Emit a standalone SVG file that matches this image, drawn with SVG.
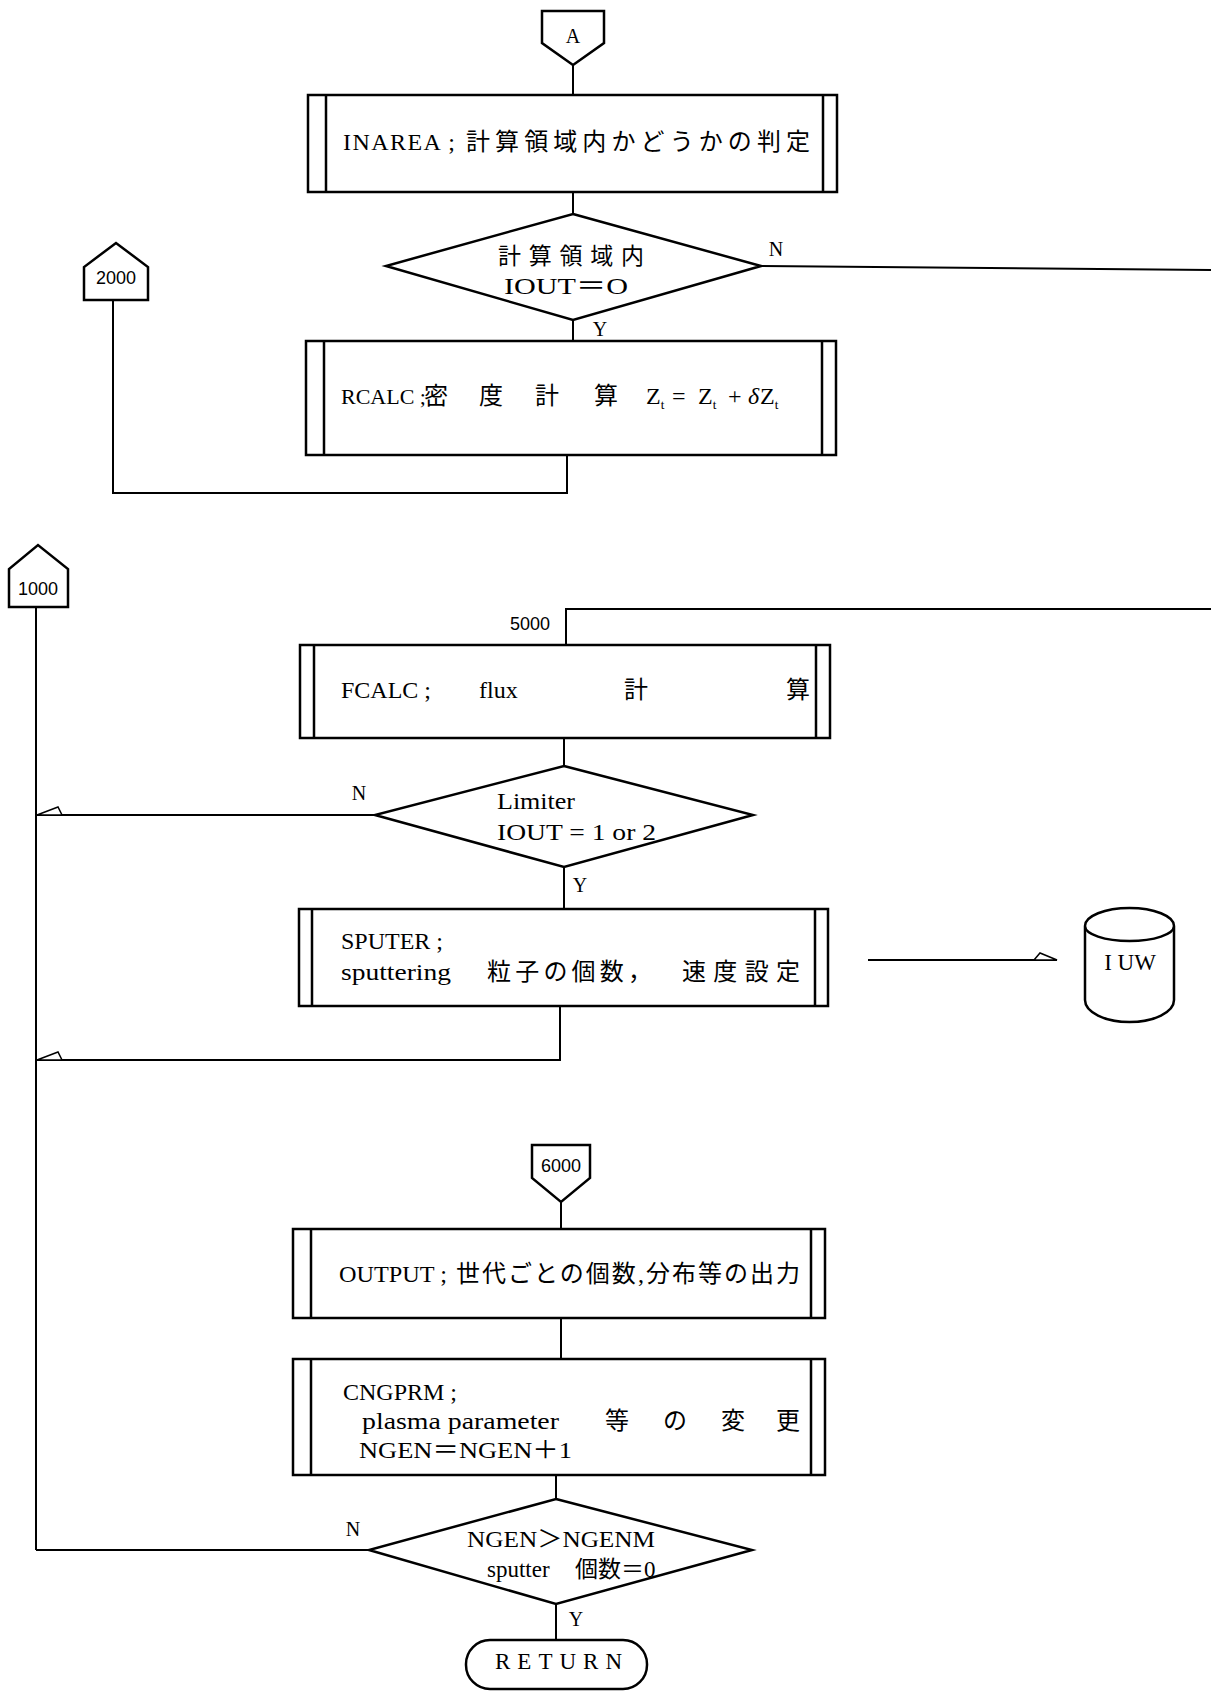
<svg xmlns="http://www.w3.org/2000/svg" width="1211" height="1691" viewBox="0 0 1211 1691">
<style>
.b{fill:none;stroke:#000;stroke-width:2.5}
.l{fill:none;stroke:#000;stroke-width:2}
.h{fill:#fff;stroke:#000;stroke-width:1.5}
text{font-family:"Liberation Serif","Noto Sans CJK JP",serif;fill:#000}
.t{font-size:24px}
.d{font-size:23px}
.s{font-size:20px}
.n{font-family:"Liberation Sans","Noto Sans CJK JP",sans-serif;font-size:19px}
.m{text-anchor:middle}
</style>
<rect width="1211" height="1691" fill="#fff"/>
<g id="connectors">
<path class="l" d="M573,65V95"/>
<path class="l" d="M573,192V214"/>
<path class="l" d="M761,266L1211,270"/>
<path class="l" d="M573,320V341"/>
<path class="l" d="M567,455V493H113V300"/>
<path class="l" d="M36,607V1550"/>
<path class="l" d="M1211,609H566V645"/>
<path class="l" d="M564,738V766"/>
<path class="l" d="M375,815H36"/>
<polygon class="h" points="37,815 58,807 62,815"/>
<path class="l" d="M564,867V909"/>
<path class="l" d="M560,1006V1060H36"/>
<polygon class="h" points="37,1060 58,1052 62,1060"/>
<path class="l" d="M868,960H1057"/>
<polygon class="h" points="1057,960 1040,953 1034,960"/>
<path class="l" d="M561,1202V1229"/>
<path class="l" d="M561,1318V1359"/>
<path class="l" d="M556,1475V1499"/>
<path class="l" d="M369,1550H36"/>
<path class="l" d="M556,1604V1640"/>
<text class="s" x="776" y="256" text-anchor="middle">N</text>
<text class="s" x="600" y="336" text-anchor="middle">Y</text>
<text class="n" x="530" y="630" text-anchor="middle" textLength="40" lengthAdjust="spacingAndGlyphs">5000</text>
<text class="s" x="359" y="800" text-anchor="middle">N</text>
<text class="s" x="580" y="892" text-anchor="middle">Y</text>
<text class="s" x="353" y="1536" text-anchor="middle">N</text>
<text class="s" x="576" y="1626" text-anchor="middle">Y</text>
</g>
<g id="A">
<polygon class="b" points="542,11 604,11 604,43 573,65 542,43"/>
<text class="s m" x="573" y="43">A</text>
</g>
<g id="INAREA">
<rect class="b" x="308" y="95" width="529" height="97"/>
<path class="b" d="M326,95V192M823,95V192"/>
<text class="t" x="343" y="150" textLength="112" lengthAdjust="spacing">INAREA ;</text>
<text class="t" x="466" y="150" textLength="344" lengthAdjust="spacing">計算領域内かどうかの判定</text>
</g>
<g id="dec1">
<polygon class="b" points="573,214 761,266 573,320 386,266"/>
<text class="d" x="498" y="264" textLength="146" lengthAdjust="spacing">計算領域内</text>
<text class="t" x="504" y="294" textLength="124" lengthAdjust="spacingAndGlyphs">IOUT＝O</text>
</g>
<g id="RCALC">
<rect class="b" x="306" y="341" width="530" height="114"/>
<path class="b" d="M324,341V455M822,341V455"/>
<text x="341" y="404" font-size="22">RCALC ;</text>
<text class="t" y="404"><tspan x="424">密</tspan><tspan x="479">度</tspan><tspan x="535">計</tspan><tspan x="594">算</tspan></text>
<text class="t" y="404"><tspan x="646">Z</tspan><tspan font-size="13" dy="5">t</tspan><tspan x="672" dy="-5">=</tspan><tspan x="698">Z</tspan><tspan font-size="13" dy="5">t</tspan><tspan x="728" dy="-5">+</tspan><tspan x="748" font-style="italic">δ</tspan><tspan x="760">Z</tspan><tspan font-size="13" dy="5">t</tspan></text>
</g>
<g id="c2000">
<polygon class="b" points="84,300 148,300 148,267 116,243 84,267"/>
<text class="n m" x="116" y="284" textLength="40" lengthAdjust="spacingAndGlyphs">2000</text>
</g>
<g id="c1000">
<polygon class="b" points="9,607 68,607 68,569 38,545 9,569"/>
<text class="n m" x="38" y="595" textLength="40" lengthAdjust="spacingAndGlyphs">1000</text>
</g>
<g id="FCALC">
<rect class="b" x="300" y="645" width="530" height="93"/>
<path class="b" d="M314,645V738M816,645V738"/>
<text class="t" y="698"><tspan x="341">FCALC ;</tspan><tspan x="479">flux</tspan><tspan x="624">計</tspan><tspan x="786">算</tspan></text>
</g>
<g id="dec2">
<polygon class="b" points="564,766 753,815 564,867 375,815"/>
<text class="t" x="497" y="809" textLength="78" lengthAdjust="spacingAndGlyphs">Limiter</text>
<text class="t" x="497" y="840" textLength="159" lengthAdjust="spacingAndGlyphs">IOUT = 1 or 2</text>
</g>
<g id="SPUTER">
<rect class="b" x="299" y="909" width="529" height="97"/>
<path class="b" d="M312,909V1006M815,909V1006"/>
<text class="t" x="341" y="949">SPUTER ;</text>
<text class="t" x="341" y="980" textLength="110" lengthAdjust="spacingAndGlyphs">sputtering</text>
<text class="t" x="487" y="980" textLength="165" lengthAdjust="spacing">粒子の個数，</text>
<text class="t" x="682" y="980" textLength="118" lengthAdjust="spacing">速度設定</text>
</g>
<g id="IUW">
<path class="b" d="M1085,926A44.5,18 0 0 1 1174,926A44.5,15 0 0 1 1085,926V1000A44.5,22 0 0 0 1174,1000V926"/>
<text class="d m" x="1130" y="970">I UW</text>
</g>
<g id="c6000">
<polygon class="b" points="532,1145 590,1145 590,1178 561,1202 532,1178"/>
<text class="n m" x="561" y="1172" textLength="40" lengthAdjust="spacingAndGlyphs">6000</text>
</g>
<g id="OUTPUT">
<rect class="b" x="293" y="1229" width="532" height="89"/>
<path class="b" d="M311,1229V1318M811,1229V1318"/>
<text class="t" x="339" y="1282" textLength="108" lengthAdjust="spacingAndGlyphs">OUTPUT ;</text>
<text class="t" x="456" y="1282" textLength="344" lengthAdjust="spacing">世代ごとの個数,分布等の出力</text>
</g>
<g id="CNGPRM">
<rect class="b" x="293" y="1359" width="532" height="116"/>
<path class="b" d="M311,1359V1475M811,1359V1475"/>
<text class="t" x="343" y="1400">CNGPRM ;</text>
<text class="t" y="1429"><tspan x="362" textLength="197" lengthAdjust="spacingAndGlyphs">plasma parameter</tspan><tspan x="605">等</tspan><tspan x="663">の</tspan><tspan x="721">変</tspan><tspan x="776">更</tspan></text>
<text class="t" x="359" y="1458" textLength="213" lengthAdjust="spacingAndGlyphs">NGEN＝NGEN＋1</text>
</g>
<g id="dec3">
<polygon class="b" points="556,1499 752,1550 556,1604 369,1550"/>
<text class="t" x="467" y="1547" textLength="188" lengthAdjust="spacingAndGlyphs">NGEN＞NGENM</text>
<text class="d" x="487" y="1577"><tspan>sputter</tspan><tspan x="575">個数＝0</tspan></text>
</g>
<g id="RETURN">
<rect class="b" x="466" y="1640" width="181" height="49" rx="24"/>
<text class="d" x="495" y="1669" textLength="127" lengthAdjust="spacing">RETURN</text>
</g>
</svg>
